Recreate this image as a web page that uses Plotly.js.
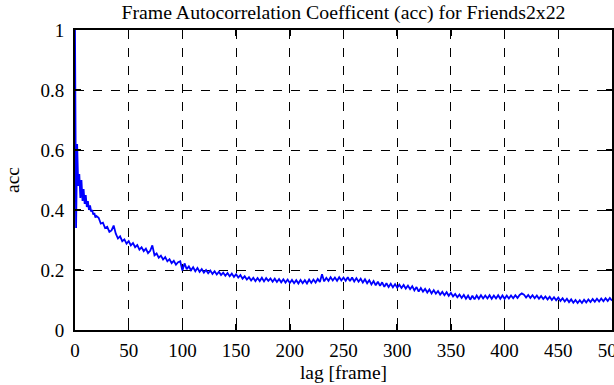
<!DOCTYPE html>
<html>
<head>
<meta charset="utf-8">
<script src="https://cdn.plot.ly/plotly-3.0.1.min.js"></script>
<style>html,body{margin:0;padding:0;background:#fff;}#chart{width:614px;height:385px;}</style>
</head>
<body>
<div id="chart"></div>
<script>
// acc values for lags 0..20 (step 1)
var accEarly = [1.0, 0.34, 0.62, 0.48, 0.52, 0.44, 0.50, 0.43, 0.47, 0.42, 0.45,
                0.41, 0.43, 0.40, 0.415, 0.395, 0.40, 0.385, 0.39, 0.375, 0.38];
// acc values for lags 22..500 (step 2)
var accLate = [
 0.374, 0.355, 0.358, 0.340, 0.344, 0.327, 0.332, 0.348, 0.321, 0.305,
 0.312, 0.296, 0.302, 0.288, 0.296, 0.282, 0.290, 0.276, 0.283, 0.268,
 0.276, 0.263, 0.271, 0.256, 0.264, 0.282, 0.249, 0.255, 0.241, 0.248,
 0.235, 0.243, 0.229, 0.236, 0.223, 0.231, 0.218, 0.226, 0.229, 0.198,
 0.222, 0.203, 0.212, 0.199, 0.209, 0.196, 0.207, 0.194, 0.203, 0.191,
 0.200, 0.189, 0.198, 0.187, 0.196, 0.185, 0.194, 0.183, 0.191, 0.181,
 0.190, 0.179, 0.188, 0.177, 0.186, 0.175, 0.183, 0.171, 0.179, 0.168,
 0.176, 0.165, 0.174, 0.163, 0.173, 0.163, 0.174, 0.162, 0.173, 0.164,
 0.172, 0.161, 0.171, 0.160, 0.170, 0.159, 0.169, 0.158, 0.168, 0.157,
 0.167, 0.156, 0.166, 0.155, 0.167, 0.156, 0.166, 0.155, 0.168, 0.157,
 0.168, 0.158, 0.170, 0.160, 0.186, 0.162, 0.174, 0.164, 0.176, 0.165,
 0.175, 0.164, 0.176, 0.165, 0.175, 0.164, 0.176, 0.163, 0.175, 0.162,
 0.173, 0.161, 0.171, 0.158, 0.169, 0.156, 0.166, 0.152, 0.163, 0.149,
 0.161, 0.147, 0.159, 0.144, 0.156, 0.143, 0.154, 0.142, 0.153, 0.141,
 0.151, 0.140, 0.150, 0.138, 0.148, 0.136, 0.146, 0.132, 0.143, 0.128,
 0.140, 0.128, 0.137, 0.125, 0.135, 0.122, 0.133, 0.121, 0.130, 0.118,
 0.127, 0.116, 0.126, 0.114, 0.124, 0.112, 0.120, 0.109, 0.118, 0.107,
 0.117, 0.104, 0.115, 0.101, 0.114, 0.102, 0.115, 0.104, 0.116, 0.105,
 0.115, 0.105, 0.116, 0.104, 0.115, 0.105, 0.116, 0.104, 0.115, 0.104,
 0.115, 0.105, 0.115, 0.106, 0.116, 0.107, 0.117, 0.122, 0.118, 0.108,
 0.117, 0.107, 0.116, 0.106, 0.115, 0.104, 0.113, 0.103, 0.112, 0.102,
 0.111, 0.100, 0.109, 0.099, 0.108, 0.097, 0.106, 0.095, 0.104, 0.093,
 0.102, 0.091, 0.100, 0.090, 0.099, 0.090, 0.101, 0.092, 0.102, 0.093,
 0.103, 0.094, 0.104, 0.095, 0.105, 0.096, 0.106, 0.097, 0.107, 0.098
];
var xTicks = [0, 50, 100, 150, 200, 250, 300, 350, 400, 450, 500];
var yTicks = [0, 0.2, 0.4, 0.6, 0.8, 1];
var yTickText = ['0', '0.2', '0.4', '0.6', '0.8', '1'];

var lags = [], acc = [];
for (var i = 0; i < accEarly.length; i++) { lags.push(i); acc.push(accEarly[i]); }
for (var j = 0; j < accLate.length; j++) { lags.push(22 + 2 * j); acc.push(accLate[j]); }

var font = {family: '"Liberation Serif", "Times New Roman", serif', color: '#000'};
var axisCommon = {
  showline: true, linecolor: '#000', linewidth: 2, mirror: 'ticks',
  ticks: 'inside', ticklen: 6, tickwidth: 1.5, tickcolor: '#000',
  showgrid: true, gridcolor: '#000', gridwidth: 1, griddash: 'dash',
  zeroline: false, tickfont: Object.assign({size: 19}, font),
  ticklabeloverflow: 'allow'
};
var layout = {
  width: 614, height: 385,
  margin: {l: 75, r: 2, t: 30, b: 55},
  paper_bgcolor: '#fff', plot_bgcolor: '#fff',
  showlegend: false,
  font: font,
  title: {text: 'Frame Autocorrelation Coefficent (acc) for Friends2x22',
          font: Object.assign({size: 19.8}, font),
          xref: 'paper', x: 0.5, xanchor: 'center', yref: 'container', y: 0.969, yanchor: 'middle'},
  xaxis: Object.assign({}, axisCommon, {
    range: [0, 500], tickvals: xTicks, ticktext: xTicks.map(String),
    ticklabelstandoff: 2,
    title: {text: 'lag [frame]', font: Object.assign({size: 19.5}, font), standoff: 6}
  }),
  yaxis: Object.assign({}, axisCommon, {
    range: [0, 1], tickvals: yTicks, ticktext: yTickText,
    ticklabelstandoff: 5,
    title: {text: 'acc', font: Object.assign({size: 19.5}, font), standoff: 16}
  })
};
var trace = {x: lags, y: acc, type: 'scatter', mode: 'lines',
             line: {color: '#0000ff', width: 1.8}, cliponaxis: true};
Plotly.newPlot('chart', [trace], layout, {staticPlot: true, displayModeBar: false});
</script>
</body>
</html>
